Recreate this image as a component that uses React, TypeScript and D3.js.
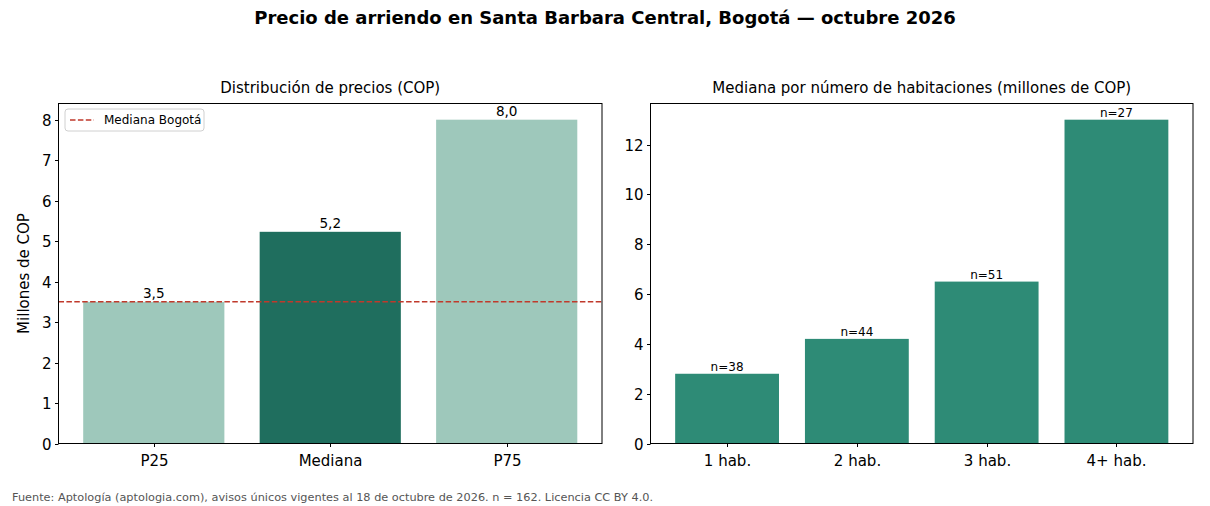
import React from "react";
import * as d3 from "d3";

// distribución de precios (millones de COP)
const priceLabels = ["P25", "Mediana", "P75"];
const priceValues = [3.5, 5.23, 8.0];
const bogotaMedian = 3.5;

// mediana por número de habitaciones
const roomLabels = ["1 hab.", "2 hab.", "3 hab.", "4+ hab."];
const roomValues = [2.8, 4.2, 6.5, 13.0];
const roomCounts = [38, 44, 51, 27];

const W = 1210;
const H = 506;
const FONT = "'DejaVu Sans', sans-serif";
const LIGHT = "#9ec8bb";
const DARK = "#1f6e5e";
const TEAL = "#2e8b76";
const RED = "#c0392b";

// font sizes
const FS = 15;
const FS_VALUE = 13.6;
const FS_SMALL = 12;

const top = 103.5;
const bottom = 443.5;

const fmt = (v: number) => v.toFixed(1).replace(".", ",");

const Axes = (props: {
  x0: number;
  x1: number;
  labels: string[];
  yMax: number;
  tickStep: number;
  title: string;
  children: (x: d3.ScaleLinear<number, number>, y: d3.ScaleLinear<number, number>) => React.ReactNode;
}) => {
  const n = props.labels.length;
  const pad = 0.4 + 0.05 * (n - 1 + 0.8);
  const x = d3.scaleLinear().domain([-pad, n - 1 + pad]).range([props.x0, props.x1]);
  const y = d3.scaleLinear().domain([0, props.yMax]).range([bottom, top]);
  const ticks = d3.range(0, props.yMax, props.tickStep);
  return (
    <g>
      {props.children(x, y)}
      <rect
        x={props.x0}
        y={top}
        width={props.x1 - props.x0}
        height={bottom - top}
        fill="none"
        stroke="#000"
        strokeWidth={1}
      />
      {ticks.map((t) => (
        <g key={t} transform={`translate(${props.x0},${Math.round(y(t)) + 0.5})`}>
          <line x1={-3.5} x2={0} stroke="#000" />
          <text x={-7} dy="0.35em" textAnchor="end" fontSize={FS}>
            {t}
          </text>
        </g>
      ))}
      {props.labels.map((l, i) => (
        <g key={l} transform={`translate(${Math.round(x(i)) + 0.5},${bottom})`}>
          <line y1={0} y2={3.5} stroke="#000" />
          <text y={22} textAnchor="middle" fontSize={FS}>
            {l}
          </text>
        </g>
      ))}
      <text x={(props.x0 + props.x1) / 2} y={93} textAnchor="middle" fontSize={FS}>
        {props.title}
      </text>
    </g>
  );
};

export default function App() {
  return (
    <svg width={W} height={H} style={{ position: "absolute", left: 0, top: 0 }} fontFamily={FONT}>
      <rect width={W} height={H} fill="#fff" />
      <text x={W / 2} y={24} textAnchor="middle" fontSize={18} fontWeight="bold">
        Precio de arriendo en Santa Barbara Central, Bogotá — octubre 2026
      </text>

      <Axes x0={58.5} x1={602} labels={priceLabels} yMax={8.4} tickStep={1} title="Distribución de precios (COP)">
        {(x, y) => (
          <g>
            {priceValues.map((v, i) => (
              <g key={i}>
                <rect
                  x={x(i - 0.4)}
                  width={x(0.8) - x(0)}
                  y={y(v)}
                  height={y(0) - y(v)}
                  fill={i === 1 ? DARK : LIGHT}
                />
                <text x={x(i)} y={y(v) - 3.5} textAnchor="middle" fontSize={FS_VALUE}>
                  {fmt(v)}
                </text>
              </g>
            ))}
            <line
              x1={58.5}
              x2={602}
              y1={y(bogotaMedian)}
              y2={y(bogotaMedian)}
              stroke={RED}
              strokeWidth={1.5}
              strokeDasharray="5.5,2.4"
            />
            <g transform="translate(65,109)">
              <rect width={139} height={22} rx={3} fill="#fff" fillOpacity={0.8} stroke="#d0d0d0" />
              <line x1={5} x2={29} y1={11} y2={11} stroke={RED} strokeWidth={1.5} strokeDasharray="5.5,2.4" />
              <text x={39} y={11} dy="0.35em" fontSize={FS_SMALL}>
                Mediana Bogotá
              </text>
            </g>
          </g>
        )}
      </Axes>
      <text
        transform={`translate(29,${(top + bottom) / 2}) rotate(-90)`}
        textAnchor="middle"
        fontSize={FS}
      >
        Millones de COP
      </text>

      <Axes
        x0={650.5}
        x1={1193}
        labels={roomLabels}
        yMax={13.65}
        tickStep={2}
        title="Mediana por número de habitaciones (millones de COP)"
      >
        {(x, y) => (
          <g>
            {roomValues.map((v, i) => (
              <g key={i}>
                <rect
                  x={x(i - 0.4)}
                  width={x(0.8) - x(0)}
                  y={y(v)}
                  height={y(0) - y(v)}
                  fill={TEAL}
                />
                <text x={x(i)} y={y(v) - 3} textAnchor="middle" fontSize={FS_SMALL}>
                  n={roomCounts[i]}
                </text>
              </g>
            ))}
          </g>
        )}
      </Axes>

      <text x={12} y={501} fontSize={11.3} fill="#555">
        Fuente: Aptología (aptologia.com), avisos únicos vigentes al 18 de octubre de 2026. n = 162. Licencia CC BY 4.0.
      </text>
    </svg>
  );
}
